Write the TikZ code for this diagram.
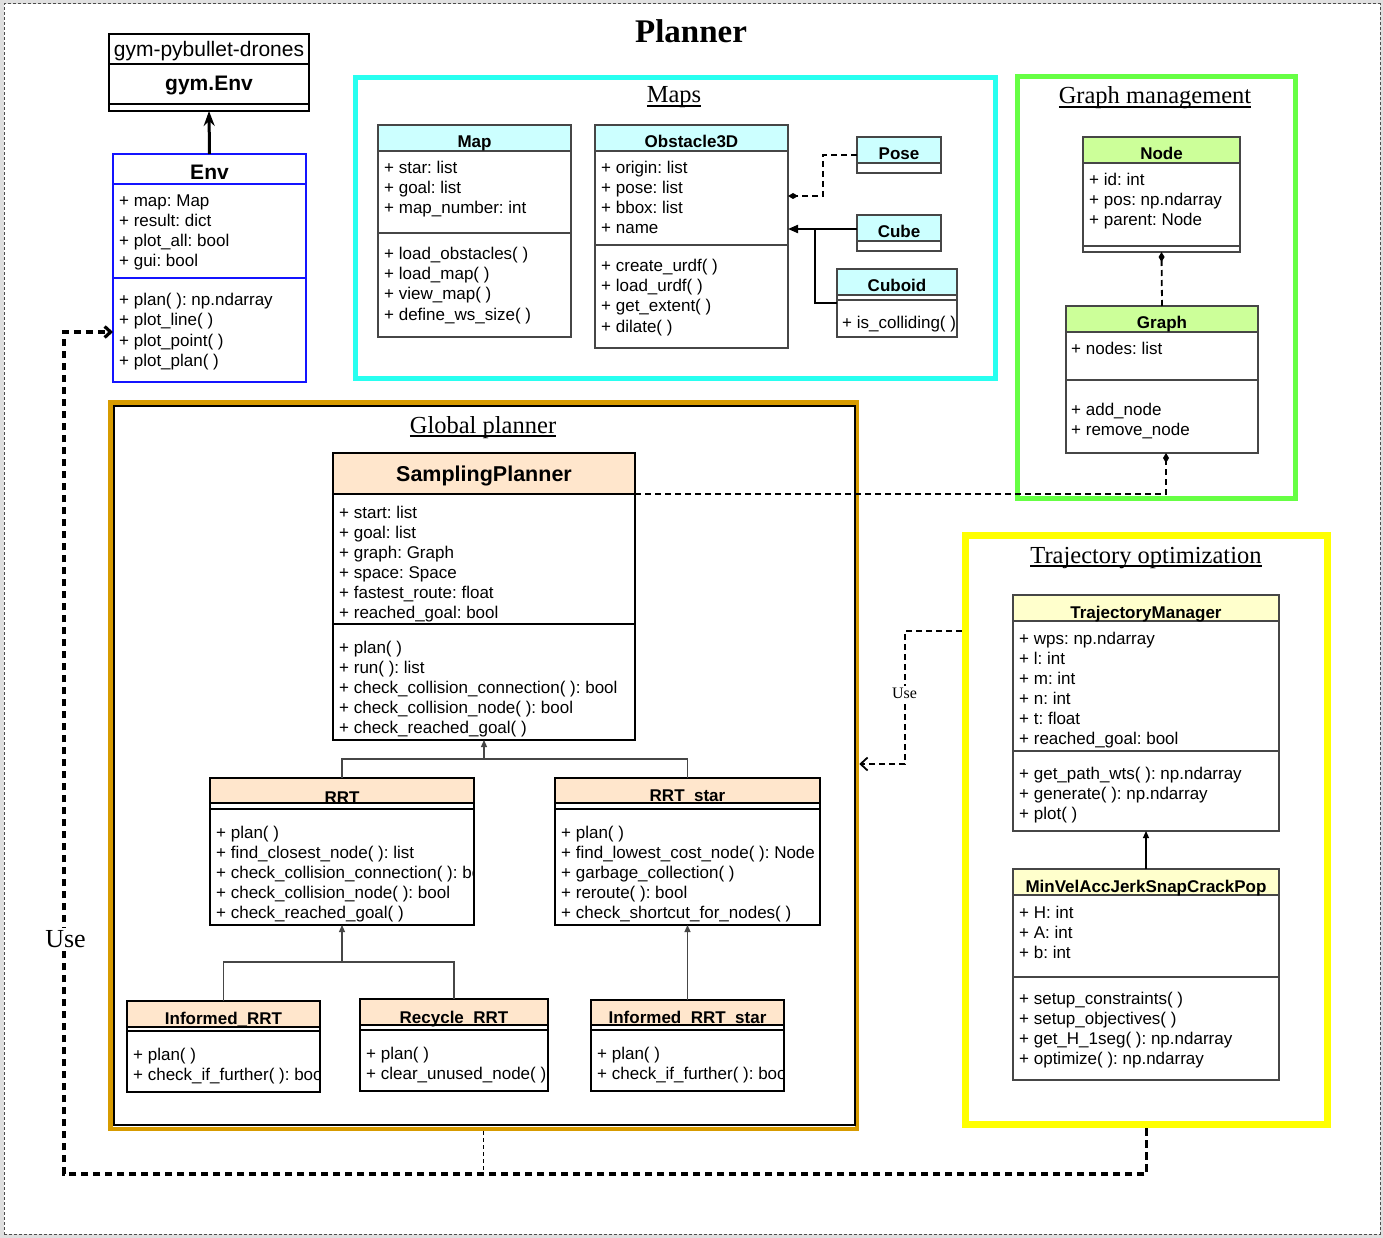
\documentclass[tikz,border=0pt]{standalone}
\usepackage{fontspec}
\setmainfont{Liberation Serif}
\setsansfont{Liberation Sans}
\usetikzlibrary{arrows.meta}
\frenchspacing
\definecolor{hcyan}{RGB}{204,255,255}
\definecolor{hgreen}{RGB}{204,255,153}
\definecolor{hpeach}{RGB}{255,230,204}
\definecolor{hyellow}{RGB}{255,255,204}
\definecolor{fcyan}{RGB}{40,255,240}
\definecolor{fgreen}{RGB}{102,255,68}
\definecolor{forange}{RGB}{215,155,0}
\definecolor{fyellow}{RGB}{255,255,0}
\definecolor{envblue}{RGB}{20,20,255}
\definecolor{cgray}{RGB}{70,70,70}
\newcommand{\ulin}[1]{\setbox0=\hbox{#1}\rlap{\vrule height -2.4pt depth 3.7pt width \wd0}\box0}
% name, x, y, w, h, header bottom, header fill, border style
\newcommand{\umlbox}[8]{%
  \fill[#7] (#2,#3) rectangle ({#2+#4},#6);
  \node[draw,#8,minimum width=#4pt,minimum height=#5pt,anchor=north west,inner sep=0pt,outer sep=0pt] (#1) at (#2,#3) {};
  \draw[#8] (#2,#6) -- ({#2+#4},#6);
}
% box name, y, style
\newcommand{\sepline}[3]{\draw[#3] (#1.west |- 0,#2) -- (#1.east |- 0,#2);}
% prefix, x, first baseline, list
\newcommand{\members}[4]{\foreach \mitem [count=\i] in {#4}{\node[mem] (#1-\i) at (#2,{#3+20*(\i-1)}) {\mitem};}}
\begin{document}
\begin{tikzpicture}[x=1pt,y=-1pt,
  mem/.style={font=\sffamily\fontsize{17}{20}\selectfont, inner sep=0pt, anchor=base west},
  hdr/.style={font=\sffamily\bfseries\fontsize{17}{20}\selectfont, inner sep=0pt, anchor=base},
  bighdr/.style={font=\sffamily\bfseries\fontsize{21.5}{24}\selectfont, inner sep=0pt, anchor=base},
  sect/.style={font=\fontsize{24.5}{28}\selectfont, inner sep=0pt, anchor=base},
  grayc/.style={draw=cgray, line width=1.2pt},
  blackc/.style={draw=black, line width=2pt},
  bluec/.style={draw=envblue, line width=2pt},
  gymc/.style={draw=black, line width=1.3pt},
  frame/.style={inner sep=0pt},
  tline/.style={draw=cgray, line width=1.1pt},
  inh/.style={tline, -{Triangle[length=7pt,width=6pt]}},
  dconn/.style={draw=black, line width=1.8pt, dash pattern=on 6pt off 4pt},
  bigdash/.style={draw=black, line width=3.2pt, dash pattern=on 7.5pt off 4.5pt},
  thindash/.style={draw=black, line width=1pt, dash pattern=on 4pt off 3pt},
  solidtwo/.style={draw=black, line width=2pt},
  dmd/.style={-{Diamond[length=10pt,width=6pt]}},
]
% background and page border
\fill[gray!25] (0,0) rectangle (1383,1238);
\node[draw=gray!60!black, dash pattern=on 3pt off 2pt, fill=white, line width=1pt, minimum width=1376pt, minimum height=1230pt, anchor=north west, inner sep=0pt, outer sep=0pt] (page) at (4,4) {};
\useasboundingbox (0,0) rectangle (1383,1238);

\node[font=\bfseries\fontsize{33}{36}\selectfont, inner sep=0pt] (title) at (691,31) {Planner};

% frames
\node[frame, draw=fcyan, line width=5pt, minimum width=640pt, minimum height=300.5pt] (mapsframe) at (675,227.75) {};
\node[frame, draw=fgreen, line width=5pt, minimum width=277.5pt, minimum height=421.5pt] (graphframe) at (1156.25,287.75) {};
\node[frame, draw=forange, line width=4.5pt, minimum width=746.5pt, minimum height=726.5pt] (gpframe) at (483.75,765.75) {};
\node[frame, draw=black, line width=2pt, minimum width=741pt, minimum height=719.5pt] (gpinner) at (484.5,765.25) {};
\node[frame, draw=fyellow, line width=7pt, minimum width=361.5pt, minimum height=589pt] (trajframe) at (1146.25,830) {};

\node[sect] (tmaps) at (674,103) {\ulin{Maps}};
\node[sect] (tgraph) at (1155,104) {\ulin{Graph management}};
\node[sect] (tglobal) at (483,433) {\ulin{Global planner}};
\node[sect] (ttraj) at (1146,563) {\ulin{Trajectory optimization}};

% gym box
\umlbox{gym}{109}{34}{200}{77}{64}{white}{gymc}
\sepline{gym}{104}{gymc}
\node[font=\sffamily\fontsize{21}{24}\selectfont, inner sep=0pt, anchor=base] (gym-t) at (209,57) {gym-pybullet-drones};
\node[bighdr, font=\sffamily\bfseries\fontsize{21}{24}\selectfont] (gym-h) at (209,91) {gym.Env};

% Env
\umlbox{env}{113}{154}{193}{228}{184}{white}{bluec}
\sepline{env}{278}{draw=envblue, line width=1.2pt}
\node[bighdr, font=\sffamily\bfseries\fontsize{21}{24}\selectfont] (env-h) at (209.5,180) {Env};
\members{enva}{119}{207}{+ map: Map,+ result: dict,+ plot\_all: bool,+ gui: bool}
\members{envm}{119}{306}{+ plan( ): np.ndarray,+ plot\_line( ),+ plot\_point( ),+ plot\_plan( )}

% Map
\umlbox{map}{378}{125}{193}{212}{151}{hcyan}{grayc}
\sepline{map}{233}{grayc}
\node[hdr] (map-h) at (474.5,148) {Map};
\members{mapa}{384}{174}{+ star: list,+ goal: list,+ map\_number: int}
\members{mapm}{384}{260}{+ load\_obstacles( ),+ load\_map( ),+ view\_map( ),+ define\_ws\_size( )}

% Obstacle3D
\umlbox{obst}{595}{125}{193}{223}{151}{hcyan}{grayc}
\sepline{obst}{245}{grayc}
\node[hdr] (obst-h) at (691.5,148) {Obstacle3D};
\members{obsta}{601}{174}{+ origin: list,+ pose: list,+ bbox: list,+ name}
\members{obstm}{601}{272}{+ create\_urdf( ),+ load\_urdf( ),+ get\_extent( ),+ dilate( )}

% Pose, Cube, Cuboid
\umlbox{pose}{857}{137}{84}{36}{163}{hcyan}{grayc}
\node[hdr] (pose-h) at (899,160) {Pose};
\umlbox{cube}{857}{215}{84}{36}{241}{hcyan}{grayc}
\node[hdr] (cube-h) at (899,238) {Cube};
\umlbox{cuboid}{837}{269}{120}{68}{295}{hcyan}{grayc}
\sepline{cuboid}{300}{grayc}
\node[hdr] (cuboid-h) at (897,292) {Cuboid};
\begin{scope}
\clip (cuboid.north west) rectangle (cuboid.south east);
\members{cuboidm}{842}{328}{+ is\_colliding( )}
\end{scope}

% Node, Graph
\umlbox{node}{1083}{137}{157}{115}{163}{hgreen}{grayc}
\sepline{node}{246}{grayc}
\node[hdr] (node-h) at (1161.5,160) {Node};
\members{nodea}{1089}{186}{+ id: int,+ pos: np.ndarray,+ parent: Node}
\umlbox{graph}{1066}{306}{192}{147}{332}{hgreen}{grayc}
\sepline{graph}{380}{grayc}
\node[hdr] (graph-h) at (1162,328) {Graph};
\members{grapha}{1071}{354}{+ nodes: list}
\members{graphm}{1071}{415}{+ add\_node,+ remove\_node}

% SamplingPlanner
\umlbox{samp}{333}{453}{302}{287}{494}{hpeach}{blackc}
\sepline{samp}{624}{draw=black, line width=1.3pt}
\node[bighdr] (samp-h) at (484,481) {SamplingPlanner};
\members{sampa}{339}{518}{+ start: list,+ goal: list,+ graph: Graph,+ space: Space,+ fastest\_route: float,+ reached\_goal: bool}
\members{sampm}{339}{653}{+ plan( ),+ run( ): list,+ check\_collision\_connection( ): bool,+ check\_collision\_node( ): bool,+ check\_reached\_goal( )}

% RRT
\umlbox{rrt}{210}{778}{264}{147}{803}{hpeach}{blackc}
\sepline{rrt}{809}{draw=black, line width=1.3pt}
\node[hdr] (rrt-h) at (342,803) {RRT};
\begin{scope}
\clip (rrt.north west) rectangle (rrt.south east);
\members{rrtm}{216}{838}{+ plan( ),+ find\_closest\_node( ): list,+ check\_collision\_connection( ): bool,+ check\_collision\_node( ): bool,+ check\_reached\_goal( )}
\end{scope}

% RRT_star
\umlbox{rrtstar}{555}{778}{265}{147}{803}{hpeach}{blackc}
\sepline{rrtstar}{809}{draw=black, line width=1.3pt}
\node[hdr] (rrtstar-h) at (687.5,801) {RRT\_star};
\members{rrtstarm}{561}{838}{+ plan( ),+ find\_lowest\_cost\_node( ): Node,+ garbage\_collection( ),+ reroute( ): bool,+ check\_shortcut\_for\_nodes( )}

% Informed_RRT
\umlbox{irrt}{127}{1001}{193}{91}{1027}{hpeach}{blackc}
\sepline{irrt}{1031}{draw=black, line width=1.3pt}
\node[hdr] (irrt-h) at (223.5,1024) {Informed\_RRT};
\begin{scope}
\clip (irrt.north west) rectangle (irrt.south east);
\members{irrtm}{133}{1060}{+ plan( ),+ check\_if\_further( ): bool}
\end{scope}

% Recycle_RRT
\umlbox{recycle}{360}{999}{188}{92}{1025}{hpeach}{blackc}
\sepline{recycle}{1030}{draw=black, line width=1.3pt}
\node[hdr] (recycle-h) at (454,1023) {Recycle\_RRT};
\members{recyclem}{366}{1059}{+ plan( ),+ clear\_unused\_node( )}

% Informed_RRT_star
\umlbox{irrtstar}{591}{1000}{193}{91}{1025}{hpeach}{blackc}
\sepline{irrtstar}{1030}{draw=black, line width=1.3pt}
\node[hdr] (irrtstar-h) at (687.5,1023) {Informed\_RRT\_star};
\begin{scope}
\clip (irrtstar.north west) rectangle (irrtstar.south east);
\members{irrtstarm}{597}{1059}{+ plan( ),+ check\_if\_further( ): bool}
\end{scope}

% TrajectoryManager
\umlbox{tm}{1013}{595}{266}{236}{621}{hyellow}{grayc}
\sepline{tm}{751}{grayc}
\node[hdr] (tm-h) at (1146,618) {TrajectoryManager};
\members{tma}{1019}{644}{+ wps: np.ndarray,+ l: int,+ m: int,+ n: int,+ t: float,+ reached\_goal: bool}
\members{tmm}{1019}{779}{+ get\_path\_wts( ): np.ndarray,+ generate( ): np.ndarray,+ plot( )}

% MinVelAccJerkSnapCrackPop
\umlbox{minvel}{1013}{869}{266}{211}{895}{hyellow}{grayc}
\sepline{minvel}{977}{grayc}
\node[hdr] (minvel-h) at (1146,892) {MinVelAccJerkSnapCrackPop};
\members{minvela}{1019}{918}{+ H: int,+ A: int,+ b: int}
\members{minvelm}{1019}{1004}{+ setup\_constraints( ),+ setup\_objectives( ),+ get\_H\_1seg( ): np.ndarray,+ optimize( ): np.ndarray}

% ---------- connectors ----------
\draw[line width=3pt, -{Stealth[length=15pt,width=11pt,inset=5pt]}] (env.north) -- (gym.south);

% Maps
\coordinate (posecorner) at (823,196);
\draw[dconn, dmd] (pose.west) -| (posecorner) -- (obst.east |- posecorner);
\coordinate (cubein) at (857,229);
\coordinate (cubejoin) at (815,229);
\draw[solidtwo, -{Triangle[length=10pt,width=8pt]}] (cubein) -- (obst.east |- cubein);
\draw[solidtwo] (cuboid.west) -| (cubejoin);

% Graph management
\draw[dconn, dmd] (graph.north) -- (node.south);
\coordinate (samphb) at (635,494);
\draw[dconn, dmd] (samphb) -| ([xshift=4pt]graph.south);

% Global planner inheritance
\coordinate (j1) at (484,759);
\draw[tline] (rrt.north) |- (j1) -| (rrtstar.north);
\draw[inh] (j1) -- (samp.south);
\coordinate (j2) at (342,962);
\draw[tline] (irrt.north) |- (j2) -| (recycle.north);
\draw[inh] (j2) -- (rrt.south);
\draw[inh] (irrtstar.north) -- (rrtstar.south);

% Trajectory inheritance
\draw[draw=black, line width=1.1pt, -{Triangle[length=7pt,width=6pt]}] (minvel.north) -- (tm.south);

% Use (trajectory -> global planner)
\coordinate (useA) at (905,631);
\coordinate (useB) at (905,764);
\draw[dconn, -{Straight Barb[length=7pt,width=13pt]}] (trajframe.west |- useA) -| (useB) -- (gpframe.east |- useB);
\node[font=\fontsize{16}{18}\selectfont, fill=white, inner sep=1.5pt, anchor=base] (use2) at (904.5,698) {Use};

% Use (big loop to Env)
\coordinate (bl) at (64,1174);
\coordinate (envin) at (64,332);
\draw[thindash] (gpframe.south) -- (gpframe.south |- bl);
\draw[bigdash, -{Straight Barb[length=6pt,width=11pt]}] (trajframe.south) |- (bl) -- (envin) -- (env.west |- envin);
\node[font=\fontsize{26}{30}\selectfont, fill=white, inner sep=2pt, anchor=base] (use1) at (65.5,947) {Use};
\end{tikzpicture}
\end{document}
